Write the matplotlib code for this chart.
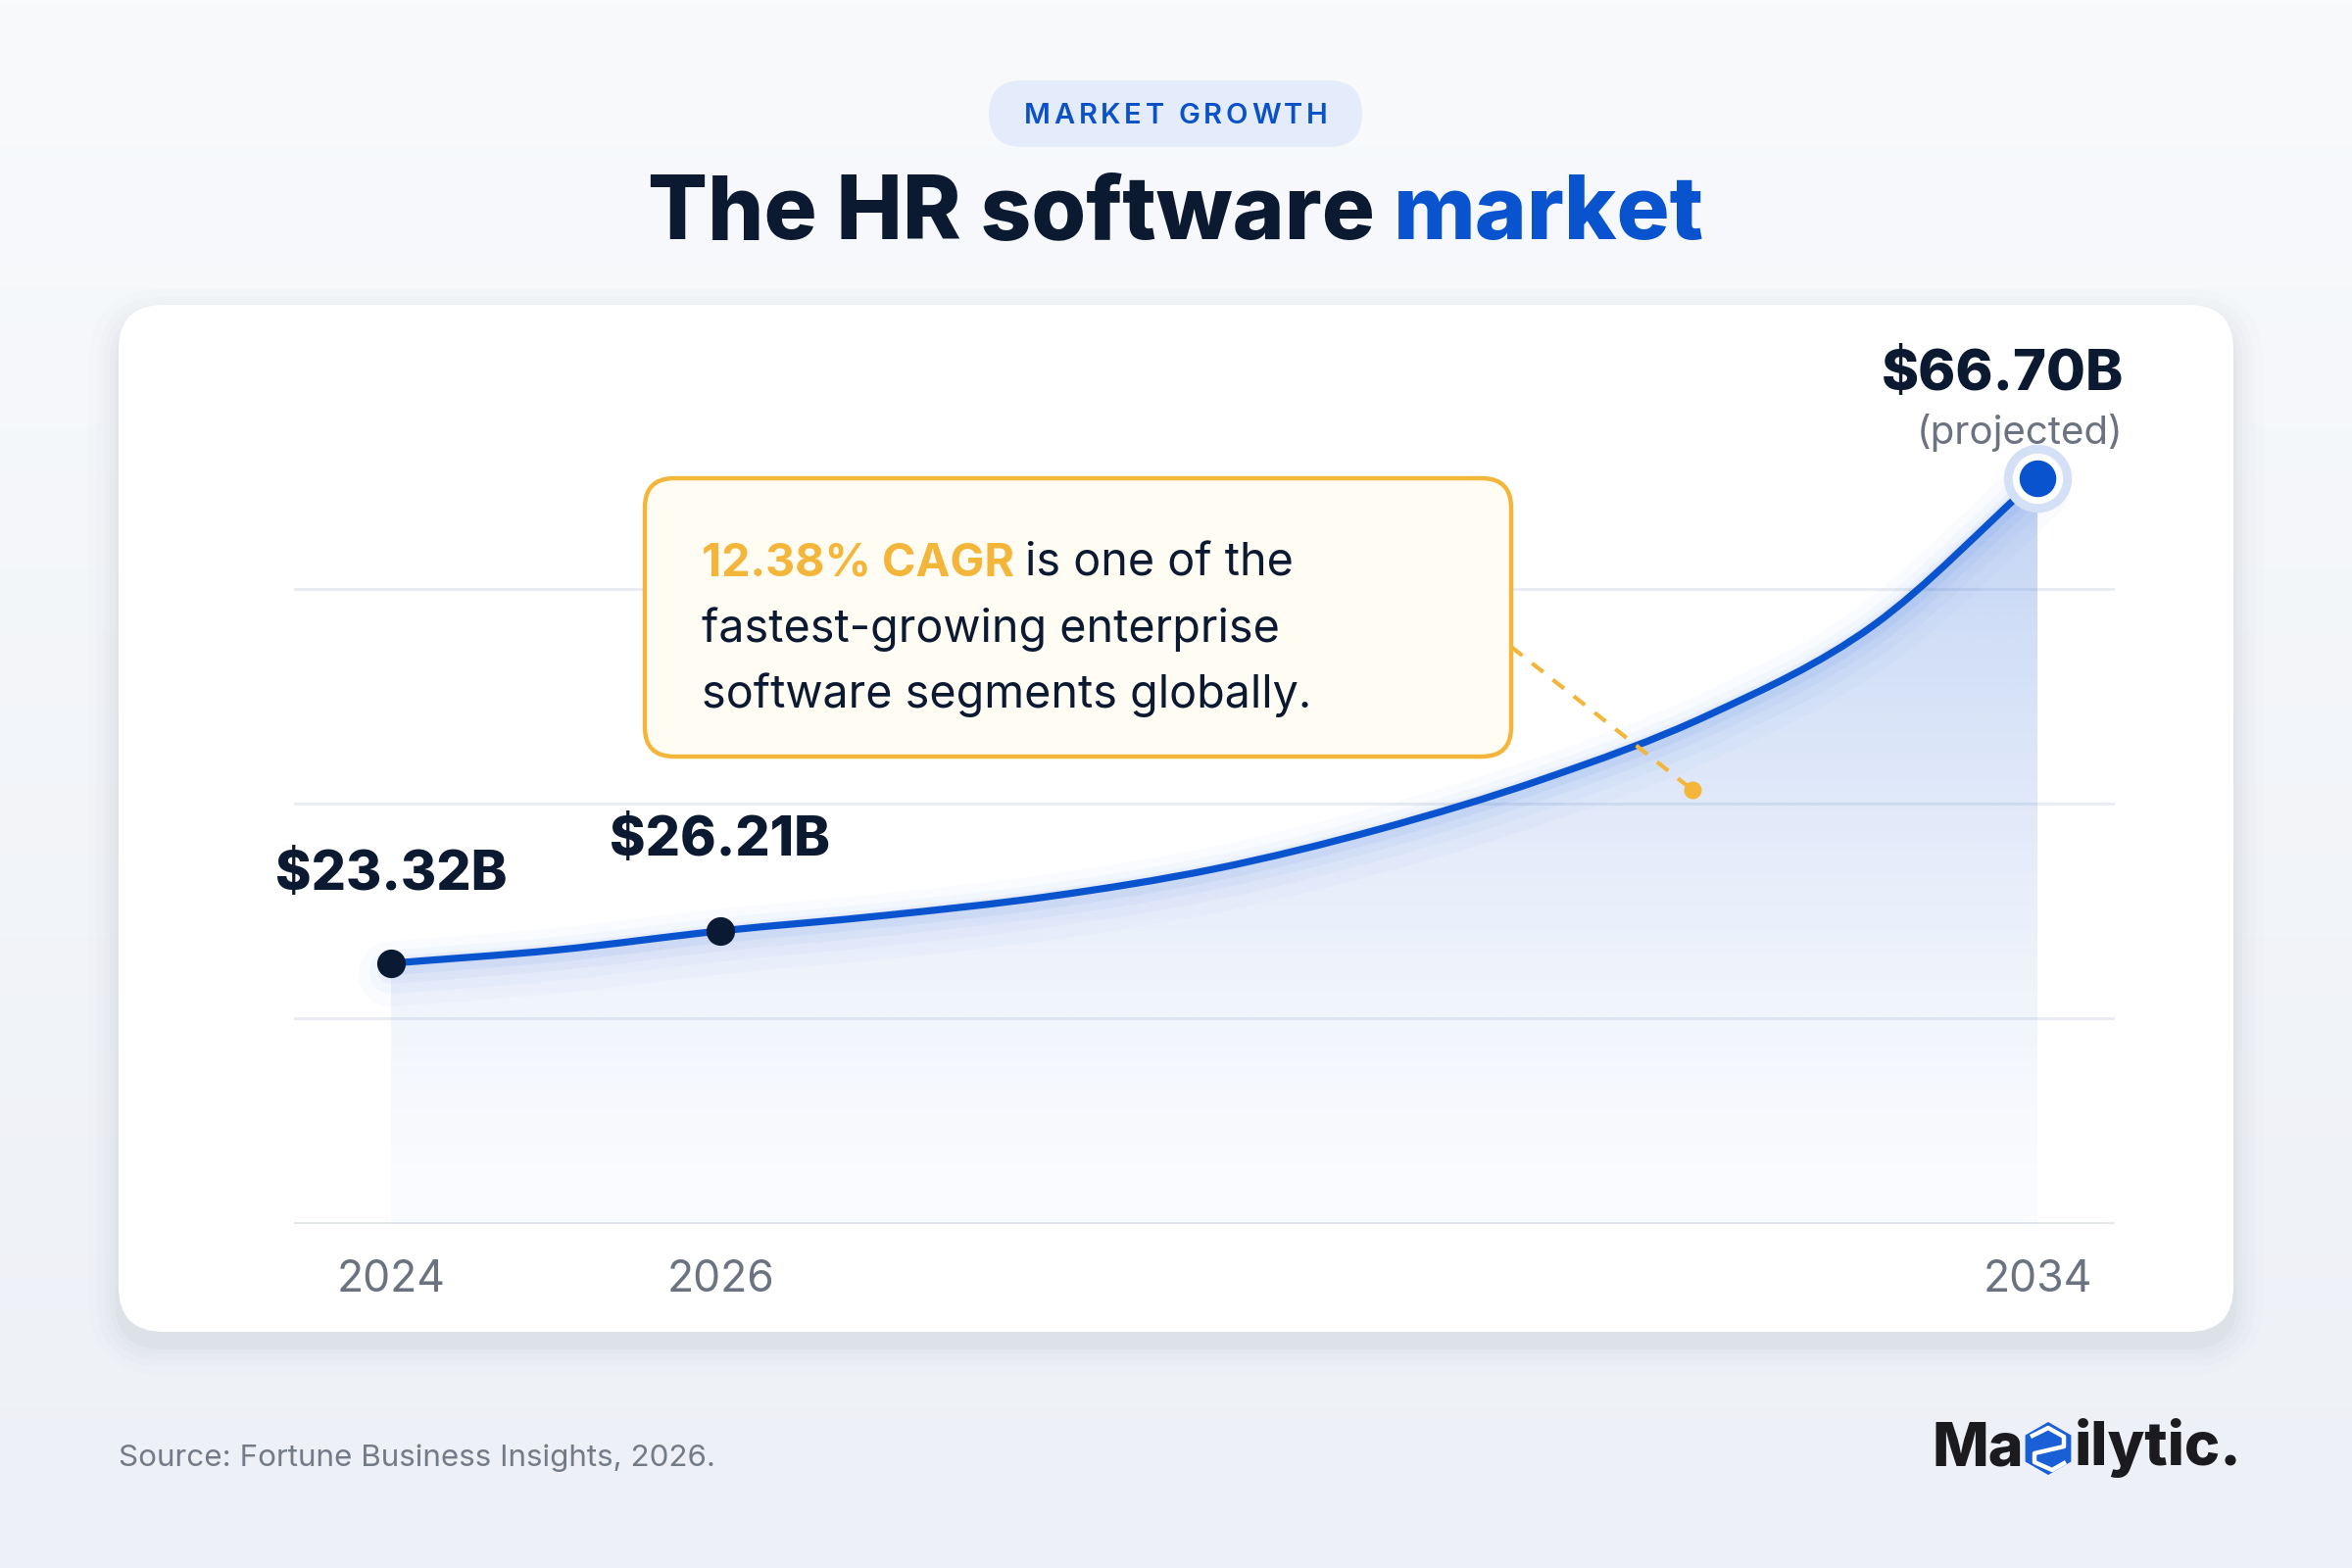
import numpy as np
import matplotlib
matplotlib.use("Agg")
import matplotlib.pyplot as plt
from matplotlib.patches import FancyBboxPatch, PathPatch, RegularPolygon
from matplotlib.path import Path
import matplotlib.transforms as mtransforms

# ---------------- data ----------------
years = [2024, 2026, 2034]
values = [23.32, 26.21, 66.70]
value_labels = ["$23.32B", "$26.21B", "$66.70B"]
tick_years = [2024, 2026, 2034]
tick_labels = ["2024", "2026", "2034"]
# shape of the drawn curve (estimates)
curve_years = [2024, 2025, 2026, 2027, 2028, 2029, 2030, 2031, 2032, 2033, 2034]
curve_values = [23.32, 24.5, 26.21, 27.6, 29.3, 31.75, 35.3, 39.8, 45.5, 53.5, 66.70]
grid_values = [18.4, 37.6, 56.8]
pill_text = "MARKET GROWTH"
title_dark = "The HR software"
title_blue = "market"
cagr_text = "12.38% CAGR"
callout_rest = "is one of the"
callout_lines = ["fastest-growing enterprise", "software segments globally."]
projected_text = "(projected)"
source_text = "Source: Fortune Business Insights, 2026."

FONT = "Inter"
NAVY = "#0c1a31"
BLUE = "#0a53cf"
ORANGE = "#f4b63a"
GRAY = "#6b7280"

W, H = 2400, 1600
fig = plt.figure(figsize=(12, 8), dpi=200)

# ---------------- background ----------------
bg = fig.add_axes([0, 0, 1, 1], zorder=0)
bg.set_xlim(0, W); bg.set_ylim(H, 0); bg.axis("off")
g = np.linspace(0, 1, 256)[:, None, None]
top = np.array([248, 250, 252]) / 255
bot = np.array([237, 240, 246]) / 255
bg.imshow(top + (bot - top) * g, extent=[0, W, H, 0], aspect="auto", zorder=0)
bg.set_xlim(0, W); bg.set_ylim(H, 0)

# card shadow + card
cx, cy, cw, ch, cr = 121, 311, 2158, 1048, 46
for s, a in [(30, 0.012), (22, 0.016), (15, 0.02), (9, 0.025), (4, 0.03)]:
    bg.add_patch(FancyBboxPatch((cx - s, cy - s + 14), cw + 2 * s, ch + 2 * s,
                                boxstyle=f"round,pad=0,rounding_size={cr + s}",
                                fc="#5b6b8c", ec="none", alpha=a, zorder=1))
bg.add_patch(FancyBboxPatch((cx, cy), cw, ch, boxstyle=f"round,pad=0,rounding_size={cr}",
                            fc="#ffffff", ec="none", zorder=2))

# ---------------- chart axes ----------------
ax = fig.add_axes([300 / W, (H - 1249) / H, 1858 / W, 868 / H], zorder=2)
ax.patch.set_alpha(0)
XL = (2024 - 99 / 168, 2024 + 1759 / 168)
YL = (0, 868 / 11.41)
for sp in ax.spines.values():
    sp.set_visible(False)


def catmull_rom(xs, ys):
    P = np.column_stack([xs, ys]).astype(float)
    Pext = np.vstack([2 * P[0] - P[1], P, 2 * P[-1] - P[-2]])
    verts = [tuple(P[0])]
    codes = [Path.MOVETO]
    for i in range(1, len(Pext) - 2):
        p0, p1, p2, p3 = Pext[i - 1], Pext[i], Pext[i + 1], Pext[i + 2]
        c1 = p1 + (p2 - p0) / 6.0
        c2 = p2 - (p3 - p1) / 6.0
        verts += [tuple(c1), tuple(c2), tuple(p2)]
        codes += [Path.CURVE4] * 3
    return verts, codes


cv, cc = catmull_rom(curve_years, curve_values)
curve_path = Path(cv, cc)
fill_path = Path(cv + [(curve_years[-1], 0), (curve_years[0], 0), cv[0]],
                 cc + [Path.LINETO, Path.LINETO, Path.CLOSEPOLY])

clip_patch = PathPatch(fill_path, transform=ax.transData, fc="none", ec="none")
ax.add_patch(clip_patch)
n = 400
ys = np.linspace(max(values), 0, n)
rgba = np.zeros((n, 1, 4))
rgba[..., :3] = np.array([31, 95, 214]) / 255
rgba[..., 3] = (0.02 + 0.26 * (ys / max(values)) ** 1.4)[:, None]
im = ax.imshow(rgba, extent=[curve_years[0], curve_years[-1], 0, max(values)],
               aspect="auto", origin="upper", zorder=1, interpolation="bilinear")
im.set_clip_path(clip_patch)

# grid
ax.set_yticks(grid_values)
ax.yaxis.grid(True, color="#e9edf3", lw=1.1)
ax.set_axisbelow(True)
ax.axhline(0, color="#e3e8ef", lw=1.4, zorder=0.5)
ax.tick_params(axis="y", length=0, labelleft=False)
ax.set_xticks(tick_years)
ax.set_xticklabels(tick_labels)
ax.tick_params(axis="x", length=0, pad=13, labelsize=16, labelcolor=GRAY)
for lab in ax.get_xticklabels():
    lab.set_fontfamily(FONT)

# soft glow below the line
for lw, a, off in [(24, 0.022, 11), (16, 0.032, 9), (10, 0.045, 7), (6, 0.06, 4)]:
    tr = ax.transData + mtransforms.ScaledTranslation(0, -off / 200, fig.dpi_scale_trans)
    ax.add_patch(PathPatch(curve_path, transform=tr, fill=False, ec="#2a6ae0",
                           lw=lw, alpha=a, capstyle="round", zorder=2))
ax.add_patch(PathPatch(curve_path, transform=ax.transData, fill=False, ec=BLUE,
                       lw=2.6, capstyle="round", zorder=4))

# markers
ax.plot(years[:2], values[:2], "o", ms=9.5, color="#0a1a33", zorder=5, clip_on=False)
ax.plot(years[-1], values[-1], "o", ms=24, color="#d3e0f6", zorder=5, clip_on=False)
ax.plot(years[-1], values[-1], "o", ms=17.5, color="#ffffff", zorder=6, clip_on=False)
ax.plot(years[-1], values[-1], "o", ms=12.5, color=BLUE, zorder=7, clip_on=False)

# value labels
lab_kw = dict(textcoords="offset pixels", fontsize=20, fontweight="heavy",
              color=NAVY, family=FONT, va="center", annotation_clip=False, zorder=8)
ax.annotate(value_labels[0], xy=(years[0], values[0]), xytext=(0, 90), ha="center", **lab_kw)
ax.annotate(value_labels[1], xy=(years[1], values[1]), xytext=(0, 92), ha="center", **lab_kw)
ax.annotate(value_labels[2], xy=(years[2], values[2]), xytext=(88, 105), ha="right",
            **{**lab_kw, "fontsize": 20.8})
ax.annotate(projected_text, xy=(years[2], values[2]), xytext=(88, 46), ha="right",
            textcoords="offset pixels", fontsize=14.5, color=GRAY, family=FONT,
            va="center", annotation_clip=False, zorder=8)

ax.set_xlim(*XL)
ax.set_ylim(*YL)

# ---------------- foreground decorations ----------------
fg = fig.add_axes([0, 0, 1, 1], zorder=5)
fg.set_xlim(0, W); fg.set_ylim(H, 0); fg.axis("off"); fg.patch.set_alpha(0)

# pill
fg.add_patch(FancyBboxPatch((1009, 82), 381, 68, boxstyle="round,pad=0,rounding_size=34",
                            fc="#e4ecfb", ec="none", zorder=1))

# title
TS = 32.5
t_full = fg.text(1200, 244, title_dark + " " + title_blue, fontsize=TS, fontweight="heavy",
                 family=FONT, ha="center", va="baseline", alpha=0)
fig.canvas.draw()
r = fig.canvas.get_renderer()
wfull = t_full.get_window_extent(renderer=r).width
t_full.remove()
fg.text(1200 - wfull / 2, 244, title_dark, fontsize=TS, fontweight="heavy", family=FONT,
        color=NAVY, ha="left", va="baseline")
fg.text(1200 + wfull / 2, 244, title_blue, fontsize=TS, fontweight="heavy", family=FONT,
        color=BLUE, ha="right", va="baseline")

# pill text with letter spacing
track = 3.6
chars = list(pill_text)
widths = []
for ch_ in chars:
    if ch_ == " ":
        widths.append(8.0)
        continue
    t = fg.text(0, 0, ch_, fontsize=10.5, fontweight="semibold", family=FONT, alpha=0)
    widths.append(t.get_window_extent(renderer=r).width)
    t.remove()
total = sum(widths) + track * (len(chars) - 1)
x = 1200 - total / 2
for ch_, w in zip(chars, widths):
    if ch_ != " ":
        fg.text(x, 116, ch_, fontsize=10.5, fontweight="semibold", family=FONT,
                color="#0b52c8", ha="left", va="center_baseline")
    x += w + track

# callout
CS = 16.8
fg.add_patch(FancyBboxPatch((658, 488), 884, 284, boxstyle="round,pad=0,rounding_size=30",
                            fc="#fffcf4", ec=ORANGE, lw=1.6, zorder=2))
tc = fg.text(716, 587, cagr_text, fontsize=CS, fontweight="bold", family=FONT,
             color=ORANGE, ha="left", va="baseline", zorder=3)
wc = tc.get_window_extent(renderer=r).width
fg.text(716 + wc + 11, 587, callout_rest, fontsize=CS, family=FONT, color=NAVY,
        ha="left", va="baseline", zorder=3)
fg.text(716, 655, callout_lines[0], fontsize=CS, family=FONT, color=NAVY,
        ha="left", va="baseline", zorder=3)
fg.text(716, 722, callout_lines[1], fontsize=CS, family=FONT, color=NAVY,
        ha="left", va="baseline", zorder=3)
fg.plot([1542, 1727], [660, 806], color=ORANGE, lw=1.5, dashes=(3.5, 3.0), zorder=3)
fg.plot([1727], [806], "o", ms=5.5, color=ORANGE, zorder=3)

# source
fg.text(121, 1496, source_text, fontsize=11.3, family=FONT, color="#737a88",
        ha="left", va="baseline")

# logo
fg.text(2065, 1495, "Ma", fontsize=22, fontweight="heavy", family=FONT, color="#1b1b1f",
        ha="right", va="baseline")
fg.text(2117, 1495, "ilytic.", fontsize=22, fontweight="heavy", family=FONT, color="#1b1b1f",
        ha="left", va="baseline")
fg.add_patch(RegularPolygon((2090, 1478), 6, radius=27, orientation=0, fc="#1a5fd6", ec="none"))
fg.plot([2072, 2090, 2106, 2106, 2076, 2076, 2094, 2108], [1466, 1457, 1466, 1476, 1483, 1492, 1500, 1492],
        color="white", lw=1.6, solid_capstyle="butt")

fig.savefig("out.png", dpi=200)
